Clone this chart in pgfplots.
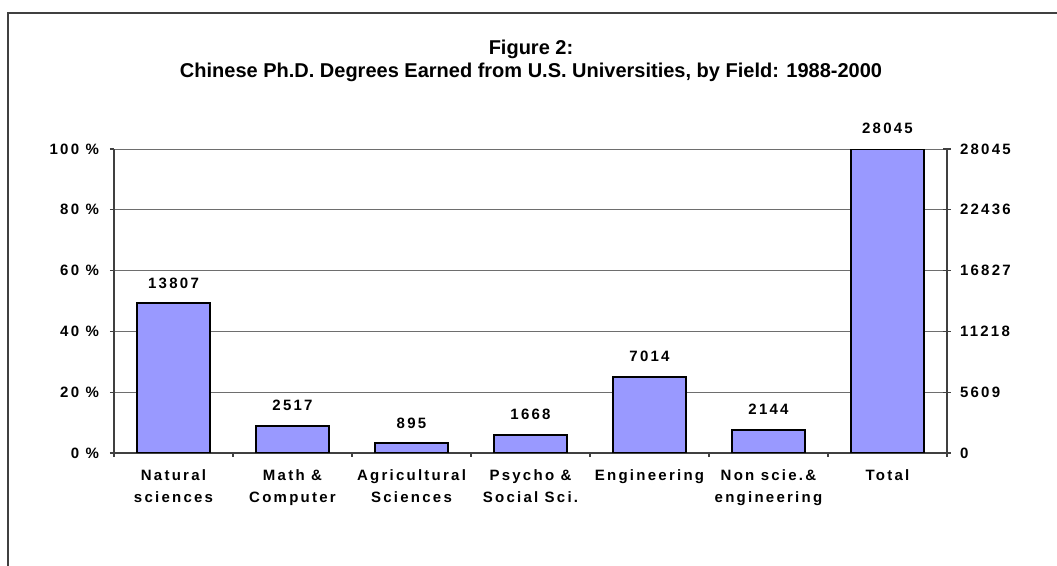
\documentclass[border=0pt]{standalone}
\usepackage{fontspec}
\setmainfont{Liberation Sans}
\newfontfamily\lsfont[LetterSpace=15]{Liberation Sans}
\usepackage{pgfplots}
\pgfplotsset{compat=1.18}
\definecolor{barblue}{HTML}{9999FF}
\definecolor{gridgray}{HTML}{6E6E6E}
\definecolor{framegray}{HTML}{404040}

\pgfplotstableread{
x y lab
0 13807 13807
1 2517 2517
2 895 895
3 1668 1668
4 7014 7014
5 2144 2144
6 28045 28045
}\phd

\begin{document}
\begin{tikzpicture}
\useasboundingbox (0pt,0pt) rectangle (528.5pt,-283pt);
\draw[line width=1pt, framegray] (4pt,-290pt) -- (4pt,-6.5pt) -- (535pt,-6.5pt);
\node[font=\bfseries\fontsize{10}{11.5}\selectfont, align=center] at (265.5pt,-30.5pt)
  {Figure 2:\\Chinese Ph.D. Degrees Earned from U.S. Universities, by Field: 1988-2000};

\begin{axis}[
  at={(57pt,-226.5pt)}, anchor=south west,
  scale only axis, width=416.5pt, height=152pt,
  xmin=-0.5, xmax=6.5, ymin=0, ymax=28045,
  scaled y ticks=false,
  axis x line*=bottom, axis y line*=left,
  axis line style={framegray, line width=0.6pt},
  tick style={framegray, line width=0.6pt},
  tick align=outside, major tick length=2pt, minor tick length=2pt,
  ytick={0,5609,11218,16827,22436,28045},
  yticklabels={0 \%,20 \%,40 \%,60 \%,80 \%,100 \%},
  ymajorgrids, grid style={gridgray, line width=0.5pt},
  xtick={0,...,6},
  every major x tick/.style={draw=none},
  minor xtick={-0.5,0.5,...,6.5},
  xticklabels={{Natural\\sciences},{Math \&\\Computer},{Agricultural\\Sciences},{Psycho \&\\Social Sci.},{Engineering},{Non scie.\&\\engineering},{Total}},
  x tick label style={align=center, anchor=north, yshift=-3pt,
    font=\lsfont\bfseries\fontsize{7.5}{11}\selectfont},
  y tick label style={xshift=-2pt, font=\lsfont\bfseries\fontsize{7.5}{9}\selectfont},
  ybar, bar width=36.5pt,
  nodes near coords,
  point meta=explicit symbolic,
  every node near coord/.append style={anchor=base, inner sep=0pt, yshift=7.5pt,
    font=\lsfont\bfseries\fontsize{7.5}{9}\selectfont},
]
\addplot[fill=barblue, draw=black, line width=1pt, bar shift=0pt] table[x=x, y=y, meta=lab] {\phd};
\end{axis}

\begin{axis}[
  at={(57pt,-226.5pt)}, anchor=south west,
  scale only axis, width=416.5pt, height=152pt,
  xmin=-0.5, xmax=6.5, ymin=0, ymax=28045,
  scaled y ticks=false,
  axis x line=none, axis y line*=right,
  axis line style={framegray, line width=0.6pt},
  tick style={framegray, line width=0.6pt},
  tick align=center, major tick length=4pt,
  ytick={0,5609,11218,16827,22436,28045},
  yticklabels={0,5609,11218,16827,22436,28045},
  y tick label style={xshift=1pt, font=\lsfont\bfseries\fontsize{7.5}{9}\selectfont},
]
\addplot[draw=none] coordinates {(0,0)};
\end{axis}
\end{tikzpicture}
\end{document}
